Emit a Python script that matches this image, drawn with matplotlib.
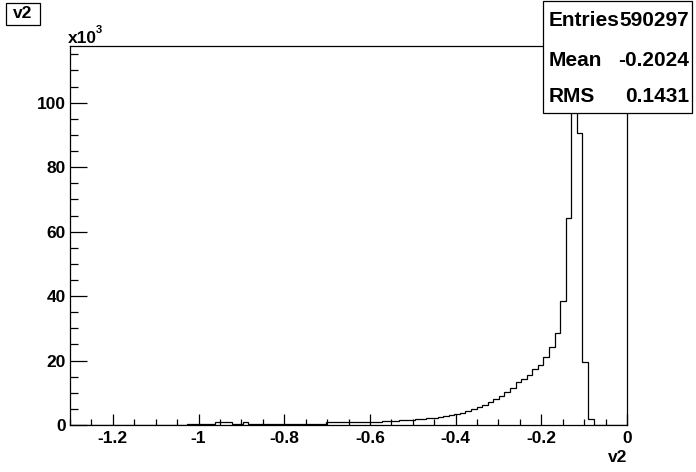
import numpy as np
import matplotlib
matplotlib.use("Agg")
import matplotlib.pyplot as plt
from matplotlib.patches import Rectangle
from matplotlib.ticker import MultipleLocator, FuncFormatter

plt.rcParams['font.family'] = ['Liberation Sans', 'DejaVu Sans']
plt.rcParams['font.weight'] = 'bold'

# histogramme v2 : 100 canaux entre -1.3 et 0, contenus en milliers
x_min, x_max, n_bins = -1.3, 0.0, 100
counts_k = [0.0] * 21 + [
    0.4, 0.4, 0.4, 0.4, 0.4,            # 21-25
    0.9, 0.9, 0.9,                      # 26-28
    0.4, 0.4, 0.9,                      # 29-31
    0.45, 0.45, 0.45, 0.45, 0.45, 0.45, 0.45,
    0.45, 0.45, 0.45, 0.45, 0.45, 0.45, 0.45,   # 32-45
    0.85, 0.85, 0.85, 0.85, 0.85, 0.85, 0.85, 0.85,  # 46-53
    1.0, 1.0, 1.1, 1.15, 1.2,           # 54-58
    1.4, 1.5, 1.6, 1.8, 1.9,            # 59-63
    2.1, 2.3, 2.6, 2.9, 3.1,            # 64-68
    3.5, 3.8, 4.2, 4.9, 5.5,            # 69-73
    6.2, 7.0, 8.1, 9.1, 10.2,           # 74-78
    11.4, 13.3, 14.2, 15.5, 17.3,       # 79-83
    18.5, 21.0, 24.1, 28.5, 38.6,       # 84-88
    64.3, 112.0, 90.7, 19.5, 1.8,       # 89-93
    0.0, 0.0, 0.0, 0.0, 0.0, 0.0,       # 94-99
]
x_ticks = [-1.2, -1.0, -0.8, -0.6, -0.4, -0.2, 0.0]
stats = [("Entries", "590297"), ("Mean", "-0.2024"), ("RMS", "0.1431")]

edges = np.linspace(x_min, x_max, n_bins + 1)

W, H = 696, 472
fig = plt.figure(figsize=(W / 100, H / 100), dpi=100)
ax = fig.add_axes([70 / W, 1 - 425 / H, (627 - 70) / W, (425 - 46) / H])

ax.stairs(counts_k, edges, color='black', linewidth=0.9)

ax.set_xlim(x_min, x_max)
ax.set_ylim(0, 1.05 * max(counts_k))

for s in ax.spines.values():
    s.set_linewidth(0.9)

ax.set_xticks(x_ticks)
ax.xaxis.set_minor_locator(MultipleLocator(0.05))
ax.yaxis.set_major_locator(MultipleLocator(20))
ax.yaxis.set_minor_locator(MultipleLocator(5))
ax.xaxis.set_major_formatter(FuncFormatter(lambda v, p: f"{v:g}" if abs(v) > 1e-9 else "0"))

ax.tick_params(axis='both', which='both', direction='in', top=False, right=False,
               labelsize=12.5, width=0.9)
ax.tick_params(axis='x', which='major', length=8, pad=4)
ax.tick_params(axis='x', which='minor', length=4)
ax.tick_params(axis='y', which='major', length=12, pad=3)
ax.tick_params(axis='y', which='minor', length=6)
for lab in ax.get_xticklabels() + ax.get_yticklabels():
    lab.set_fontweight('bold')

# facteur d'echelle en haut de l'axe y
fig.text(68 / W, 1 - 46 / H, "x10", fontsize=12.5, fontweight='bold', ha='left', va='bottom')
fig.text(96 / W, 1 - 30 / H, "3", fontsize=8, fontweight='bold', ha='left', va='center')

# titre de l'axe x
fig.text(627 / W, 1 - 458 / H, "v2", fontsize=12.5, fontweight='bold', ha='right', va='center')

# boite du titre
fig.add_artist(Rectangle((6 / W, 1 - 25 / H), 34 / W, 22 / H, transform=fig.transFigure,
                         facecolor='white', edgecolor='black', linewidth=0.9, zorder=5))
fig.text(23 / W, 1 - 14 / H, "v2", fontsize=12.5, fontweight='bold', ha='center', va='center', zorder=6)

# boite des statistiques
fig.add_artist(Rectangle((543 / W, 1 - 113 / H), (692 - 543) / W, (113 - 1) / H,
                         transform=fig.transFigure, facecolor='white', edgecolor='black',
                         linewidth=0.9, zorder=5))
for (name, val), yc in zip(stats, [20, 61, 97]):
    fig.text(549 / W, 1 - yc / H, name, fontsize=15, fontweight='bold', ha='left', va='center', zorder=6)
    fig.text(689 / W, 1 - yc / H, val, fontsize=15, fontweight='bold', ha='right', va='center', zorder=6)

fig.savefig("out.png", dpi=100)
